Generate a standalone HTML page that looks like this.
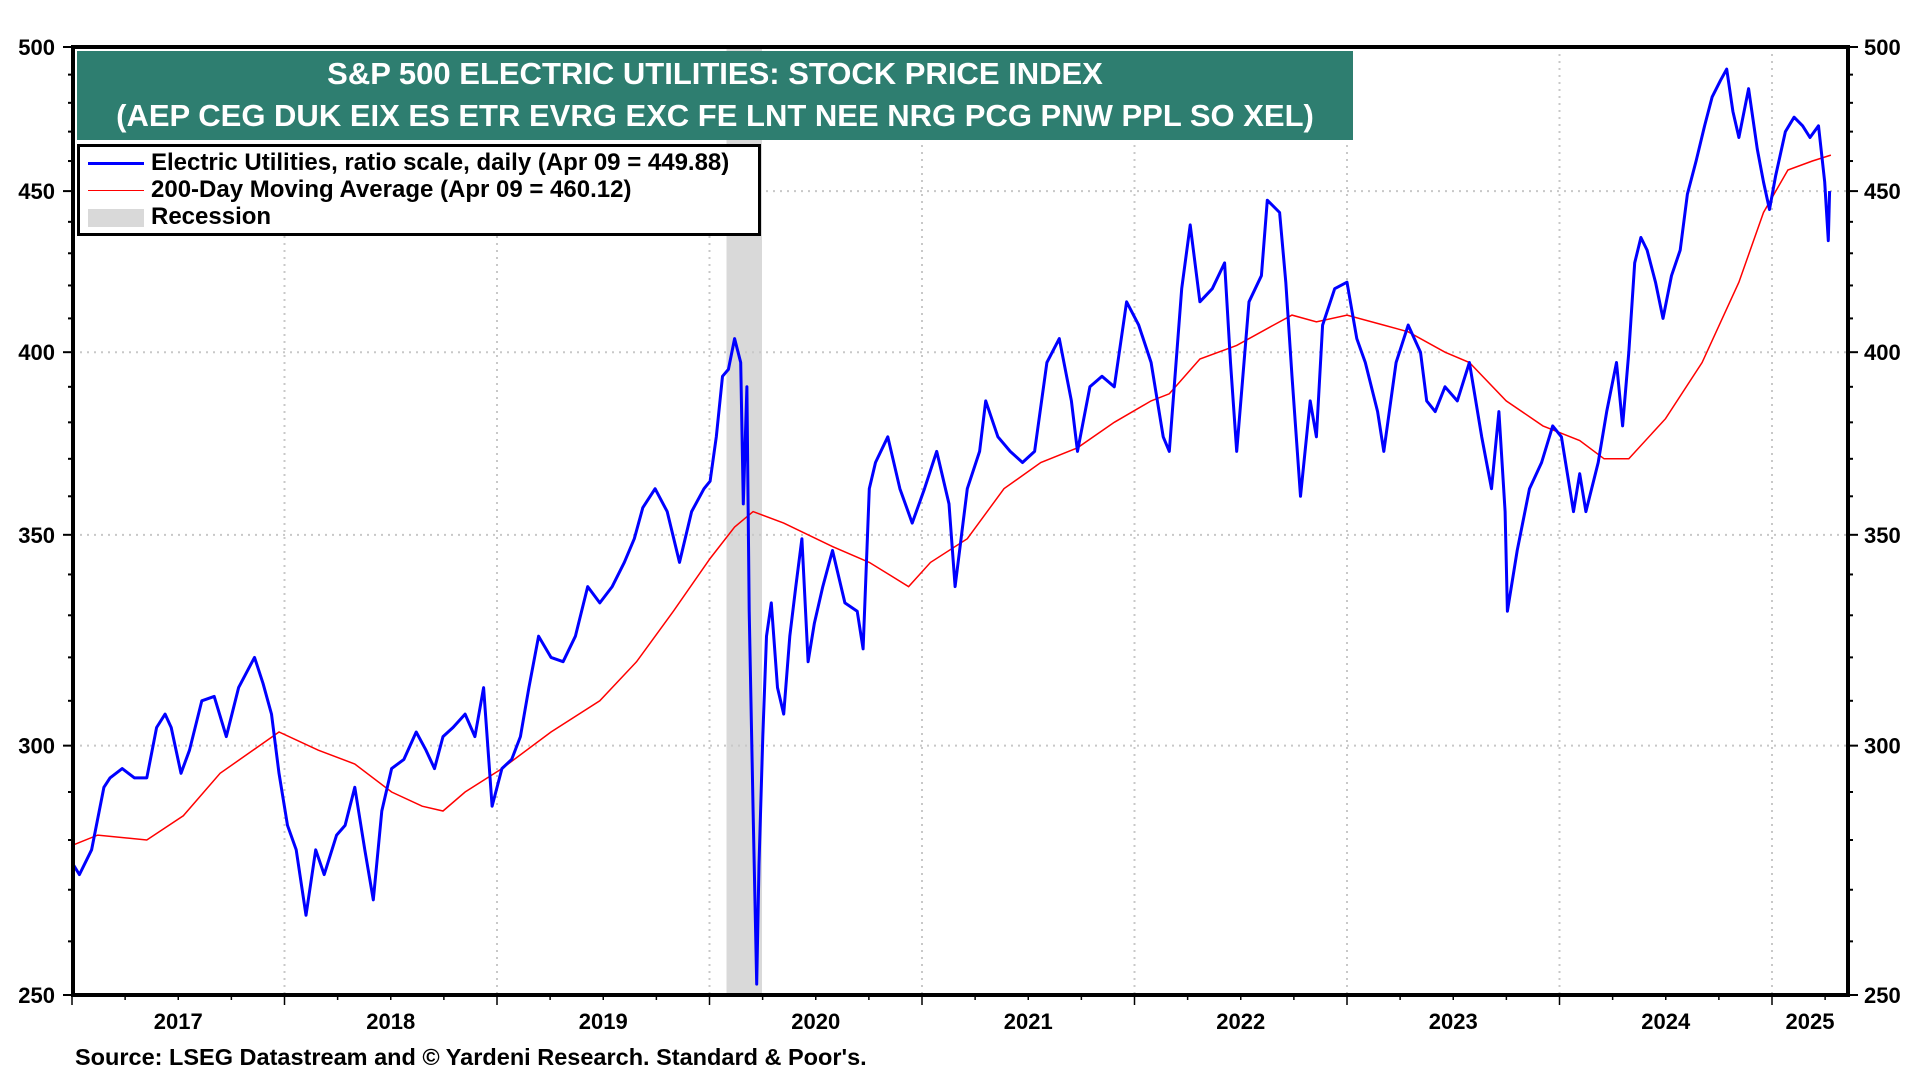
<!DOCTYPE html>
<html><head><meta charset="utf-8"><style>
html,body{margin:0;padding:0;background:#fff;}
svg{display:block;font-family:"Liberation Sans",Arial,sans-serif;}
</style></head><body>
<svg id="chart" width="1920" height="1080" viewBox="0 0 1920 1080"></svg>
<script>
const blueDates=[2017.006,2017.035,2017.092,2017.150,2017.179,2017.236,2017.294,2017.352,2017.398,2017.438,2017.467,2017.513,2017.553,2017.611,2017.669,2017.726,2017.784,2017.859,2017.899,2017.939,2017.974,2018.014,2018.055,2018.101,2018.147,2018.187,2018.245,2018.285,2018.331,2018.378,2018.418,2018.458,2018.504,2018.562,2018.620,2018.666,2018.706,2018.746,2018.793,2018.850,2018.896,2018.937,2018.977,2019.023,2019.069,2019.110,2019.150,2019.196,2019.254,2019.311,2019.369,2019.427,2019.484,2019.542,2019.599,2019.646,2019.686,2019.744,2019.801,2019.859,2019.916,2019.974,2020.003,2020.032,2020.061,2020.089,2020.118,2020.147,2020.159,2020.176,2020.187,2020.205,2020.222,2020.233,2020.251,2020.268,2020.291,2020.320,2020.349,2020.378,2020.406,2020.435,2020.464,2020.493,2020.533,2020.579,2020.637,2020.695,2020.723,2020.752,2020.781,2020.839,2020.896,2020.954,2021.012,2021.069,2021.127,2021.156,2021.213,2021.271,2021.300,2021.357,2021.415,2021.473,2021.530,2021.588,2021.646,2021.703,2021.732,2021.790,2021.847,2021.905,2021.963,2022.020,2022.078,2022.135,2022.164,2022.222,2022.262,2022.308,2022.366,2022.424,2022.452,2022.481,2022.539,2022.597,2022.625,2022.683,2022.712,2022.741,2022.781,2022.827,2022.856,2022.885,2022.942,2023.000,2023.046,2023.086,2023.144,2023.173,2023.231,2023.288,2023.346,2023.375,2023.415,2023.461,2023.519,2023.576,2023.634,2023.680,2023.715,2023.744,2023.755,2023.801,2023.859,2023.916,2023.968,2024.009,2024.066,2024.095,2024.124,2024.182,2024.222,2024.268,2024.297,2024.326,2024.354,2024.383,2024.412,2024.452,2024.487,2024.527,2024.568,2024.602,2024.643,2024.683,2024.718,2024.758,2024.787,2024.816,2024.844,2024.890,2024.931,2024.960,2024.988,2025.017,2025.063,2025.104,2025.144,2025.179,2025.219,2025.248,2025.265,2025.271];
const blueValues=[275,273,278,291,293,295,293,293,304,307,304,294,299,310,311,302,313,320,314,307,294,283,278,265,278,273,281,283,291,278,268,286,295,297,303,299,295,302,304,307,302,313,287,295,297,302,313,325,320,319,325,337,333,337,343,349,357,362,356,343,356,362,364,376,393,395,404,397,358,390,331,286,252,275,302,325,333,313,307,325,337,349,319,328,337,346,333,331,322,362,369,376,362,353,362,372,358,337,362,372,386,376,372,369,372,397,404,386,372,390,393,390,415,408,397,376,372,419,439,415,419,427,397,372,415,423,447,443,421,393,360,386,376,408,419,421,404,397,383,372,397,408,400,386,383,390,386,397,376,362,383,356,331,346,362,369,379,376,356,366,356,369,383,397,379,400,427,435,431,421,410,423,431,449,460,472,482,488,492,477,468,485,464,453,444,455,470,475,472,468,472,453,434,450];
const redDates=[2017.006,2017.121,2017.352,2017.524,2017.697,2017.974,2018.159,2018.331,2018.504,2018.648,2018.746,2018.850,2019.023,2019.254,2019.484,2019.657,2019.830,2020.003,2020.118,2020.205,2020.349,2020.579,2020.752,2020.937,2021.040,2021.213,2021.386,2021.559,2021.732,2021.905,2022.078,2022.164,2022.308,2022.481,2022.654,2022.741,2022.856,2023.000,2023.173,2023.288,2023.461,2023.576,2023.749,2023.922,2024.095,2024.210,2024.326,2024.499,2024.671,2024.844,2024.960,2025.075,2025.190,2025.277];
const redValues=[279,281,280,285,294,303,299,296,290,287,286,290,295,303,310,319,331,344,352,356,353,347,343,337,343,349,362,369,373,380,386,388,398,402,408,411,409,411,408,406,400,397,386,379,375,370,370,381,397,421,443,457,460,462];
const yTicks=[250,300,350,400,450,500];
const yGrid=[300,350,400,450];
const yearLabels=["2017","2018","2019","2020","2021","2022","2023","2024","2025"];
const yearStarts=[2017,2018,2019,2020,2021,2022,2023,2024,2025];
const recession=[2020.08,2020.247];

const X0=73,X1=1848,Y0=47,Y1=995;
const xS=t=>72+(t-2017)*212.5;
const yS=v=>Y1-Math.log(v/250)/Math.LN2*(Y1-Y0);
const svg=document.getElementById('chart');
const NS='http://www.w3.org/2000/svg';
function mk(tag,attrs,parent){const e=document.createElementNS(NS,tag);for(const k in attrs)e.setAttribute(k,attrs[k]);(parent||svg).appendChild(e);return e;}

let r=mk('rect',{x:xS(recession[0]),y:Y0,width:xS(recession[1])-xS(recession[0]),height:Y1-Y0,fill:'#d9d9d9'});



yGrid.forEach(v=>{const g=mk('line',{x1:X0,x2:X1,y1:yS(v),y2:yS(v),stroke:'#c8c8c8','stroke-width':2,'stroke-dasharray':'2,5'});

});
yearStarts.slice(1).forEach(t=>{const g=mk('line',{x1:xS(t),x2:xS(t),y1:Y0,y2:Y1,stroke:'#c8c8c8','stroke-width':2,'stroke-dasharray':'2,5'});

});

function pathOf(ds,vs){return ds.map((d,i)=>(i?'L':'M')+xS(d).toFixed(1)+','+yS(vs[i]).toFixed(1)).join('');}
let rl=mk('path',{d:pathOf(redDates,redValues),fill:'none',stroke:'#ff0000','stroke-width':1.5});


let bl=mk('path',{d:pathOf(blueDates,blueValues),fill:'none',stroke:'#0000ff','stroke-width':3,'stroke-linejoin':'round'});



let fr=mk('rect',{x:X0,y:Y0,width:X1-X0,height:Y1-Y0,fill:'none',stroke:'#000','stroke-width':4});



for(let v=250;v<=500;v+=10){const maj=v%50===0;const len=maj?10:5;
 const a=mk('line',{x1:X0-len,x2:X0,y1:yS(v),y2:yS(v),stroke:'#000','stroke-width':2});
 
 
 const b=mk('line',{x1:X1,x2:X1+len,y1:yS(v),y2:yS(v),stroke:'#000','stroke-width':2});
 
 }
yTicks.forEach(v=>{
 const a=mk('text',{x:55,y:yS(v)+8,'text-anchor':'end','font-size':22,'font-weight':'bold'});a.textContent=v;
 
 
 const b=mk('text',{x:1864,y:yS(v)+8,'font-size':22,'font-weight':'bold'});b.textContent=v;
 
 });

for(let t=2017;t<=2025.3;t+=0.25){const yr=Math.abs(t-Math.round(t))<1e-6;
 const a=mk('line',{x1:xS(t),x2:xS(t),y1:Y1,y2:Y1+(yr?10:5),stroke:'#000','stroke-width':1.5});
 
 }
yearLabels.forEach((l,i)=>{const t=yearStarts[i];const cx=i===yearLabels.length-1?1810:xS(t+0.5);
 const a=mk('text',{x:cx,y:1029,'text-anchor':'middle','font-size':22,'font-weight':'bold'});a.textContent=l;
 
 });
</script>
<div style="position:absolute;left:77px;top:51px;width:1276px;height:89px;background:#2e7e70;color:#fff;font:bold 31px 'Liberation Sans',Arial,sans-serif;text-align:center;line-height:42px;padding-top:2px;box-sizing:border-box;white-space:nowrap;">S&amp;P 500 ELECTRIC UTILITIES: STOCK PRICE INDEX<br>(AEP CEG DUK EIX ES ETR EVRG EXC FE LNT NEE NRG PCG PNW PPL SO XEL)</div>
<div style="position:absolute;left:77px;top:144px;width:684px;height:92px;border:3px solid #000;box-sizing:border-box;background:#fff;font:bold 24px 'Liberation Sans',Arial,sans-serif;">
 <div style="position:absolute;left:8px;top:2px;white-space:nowrap;"><span style="display:inline-block;width:56px;height:3px;background:#0000ff;vertical-align:middle;margin-right:7px;"></span>Electric Utilities, ratio scale, daily (Apr 09 = 449.88)</div>
 <div style="position:absolute;left:8px;top:29px;white-space:nowrap;"><span style="display:inline-block;width:56px;height:1px;background:#ff0000;vertical-align:middle;margin-right:7px;"></span>200-Day Moving Average (Apr 09 = 460.12)</div>
 <div style="position:absolute;left:8px;top:56px;white-space:nowrap;"><span style="display:inline-block;width:56px;height:18px;background:#d9d9d9;vertical-align:middle;margin-right:7px;"></span>Recession</div>
</div>
<div style="position:absolute;left:75px;top:1044px;font:bold 23.5px 'Liberation Sans',Arial,sans-serif;white-space:nowrap;">Source: LSEG Datastream and © Yardeni Research. Standard &amp; Poor's.</div>
</body></html>
